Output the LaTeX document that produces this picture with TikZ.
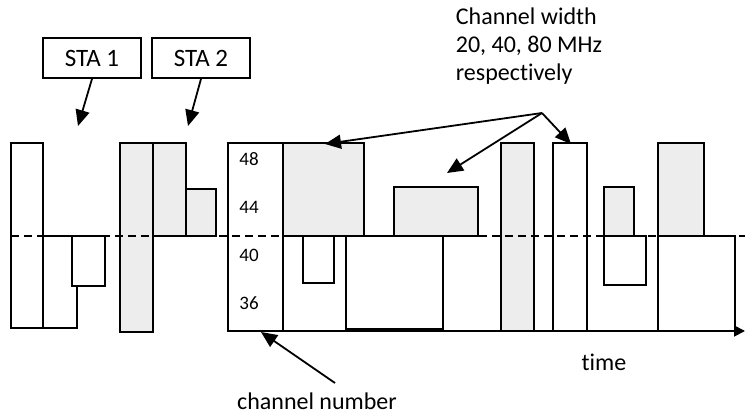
\documentclass[tikz,border=0pt]{standalone}
\usepackage{fontspec}
\setmainfont{Carlito}[Ligatures=NoCommon]
\usetikzlibrary{arrows.meta}
\definecolor{busygray}{RGB}{237,237,237}
\begin{document}
\begin{tikzpicture}[x=1pt,y=-1pt,line width=1.8pt,
    slot/.style = {draw, fill=white},
    busy/.style = {draw, fill=busygray},
    label/.style = {draw, minimum width=98pt, minimum height=40pt, font=\fontsize{25}{28}\selectfont},
    chan/.style = {font=\fontsize{19}{22}\selectfont},
    pointer/.style = {-{Triangle[length=16pt,width=14pt]}},
    txt/.style = {font=\fontsize{24}{28}\selectfont}]
    \useasboundingbox (0,0) rectangle (745,414);

    % STA 1 transmissions
    \draw[slot] (11,143) rectangle (43,328);
    \draw[slot] (43,236) rectangle (77,328);
    \draw[slot] (72,236) rectangle (105,286);
    % STA 2 transmissions
    \draw[busy] (120,143) rectangle (153,332);
    \draw[busy] (153,143) rectangle (186,236);
    \draw[busy] (186,189) rectangle (216,236);
    % channel number box
    \draw[slot] (228,143) rectangle (283,331);
    \node[chan] (c48) at (249,159) {48};
    \node[chan] (c44) at (249,207) {44};
    \node[chan] (c40) at (249,255) {40};
    \node[chan] (c36) at (249,303) {36};
    % frames over time
    \draw[busy] (283,143) rectangle (364,236);
    \draw[slot] (283,236) rectangle (346,331);
    \draw[slot] (303,236) rectangle (334,283);
    \draw[slot] (346,236) rectangle (443,329);
    \draw[busy] (394,187) rectangle (478,236);
    \draw[busy] (501,143) rectangle (534,331);
    \draw[slot] (553,143) rectangle (587,331);
    \draw[busy] (604,187) rectangle (634,236);
    \draw[slot] (604,236) rectangle (646,285);
    \draw[busy] (658,143) rectangle (704,236);
    \draw[slot] (658,236) rectangle (735,331);

    % primary channel boundary
    \draw[dash pattern=on 8pt off 5pt] (11,236) -- (745,236);

    % time axis
    \coordinate (t0) at (228,331);
    \coordinate (t1) at (745,331);
    \draw[-{Triangle[length=11pt,width=11pt]}] (t0) -- (t1);

    % labels
    \node[label] (sta1) at (92,58) {STA 1};
    \node[label] (sta2) at (201,58) {STA 2};
    \coordinate (sta1tip) at (78,126);
    \coordinate (sta2tip) at (188,126);
    \draw[pointer] (sta1.south) -- (sta1tip);
    \draw[pointer] (sta2.south) -- (sta2tip);

    \node[txt, anchor=north west, align=left, inner sep=0pt] (width) at (455,7)
        {Channel width\\20, 40, 80 MHz\\respectively};
    \coordinate (apex) at (542,113);
    \coordinate (w20) at (325,144);
    \coordinate (w40) at (447,173);
    \coordinate (w80) at (571,144);
    \draw[pointer] (apex) -- (w20);
    \draw[pointer] (apex) -- (w40);
    \draw[pointer] (apex) -- (w80);

    \node[txt] (time) at (604,362) {time};
    \node[txt] (chnum) at (317,401) {channel number};
    \coordinate (chtail) at (335,383);
    \coordinate (chtip) at (261,332);
    \draw[pointer] (chtail) -- (chtip);
\end{tikzpicture}
\end{document}
